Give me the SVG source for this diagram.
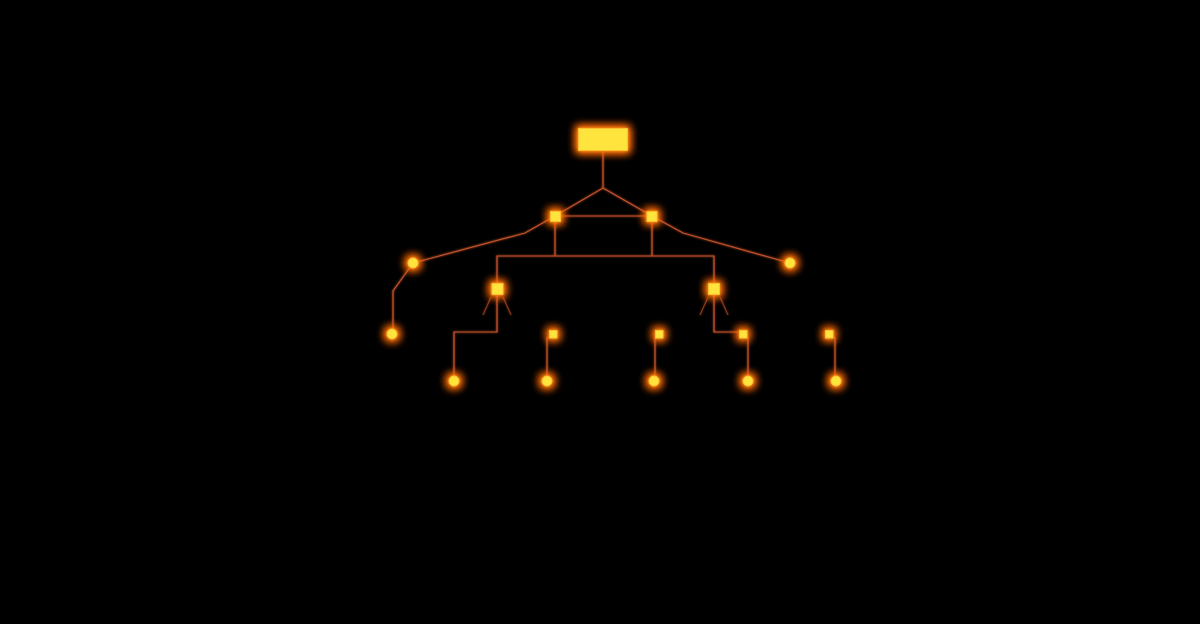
<svg xmlns="http://www.w3.org/2000/svg" width="1200" height="624" viewBox="0 0 1200 624">
<defs>
<filter id="glow" x="-200%" y="-200%" width="500%" height="500%">
<feMorphology in="SourceAlpha" operator="dilate" radius="1.5" result="d"/>
<feGaussianBlur in="d" stdDeviation="4" result="b"/>
<feFlood flood-color="#ff6a00" flood-opacity="1"/>
<feComposite in2="b" operator="in" result="g"/>
<feGaussianBlur in="SourceAlpha" stdDeviation="1.5" result="b2"/>
<feFlood flood-color="#ffa020" flood-opacity="1"/>
<feComposite in2="b2" operator="in" result="g2"/>
<feMerge><feMergeNode in="g"/><feMergeNode in="g"/><feMergeNode in="g2"/><feMergeNode in="SourceGraphic"/></feMerge>
</filter>
<filter id="lglow" x="-20%" y="-20%" width="140%" height="140%">
<feGaussianBlur stdDeviation="1" result="b"/>
<feMerge><feMergeNode in="b"/><feMergeNode in="SourceGraphic"/></feMerge>
</filter>
</defs>
<style>
.ln{fill:none;stroke:#c5522a;stroke-width:1.2;stroke-linejoin:miter}
.thin{fill:none;stroke:#9a401c;stroke-width:1}
.nd{fill:#ffe43c;stroke:#ffc030;stroke-width:0.8;filter:url(#glow)}
</style>
<rect width="1200" height="624" fill="#000"/>
<g id="connectors" filter="url(#lglow)">
<path class="ln" d="M603,151 V188 L555,216 M603,188 L652,216 M555,216 H652"/>
<path class="ln" d="M555,216 L525,233 L413,263"/>
<path class="ln" d="M652,216 L683,233 L790,263"/>
<path class="ln" d="M555,216 V256 M652,216 V256 M497,289 V256 H714 V289"/>
<path class="ln" d="M413,263 L393,291 V334"/>
<path class="ln" d="M497,289 V332 H454 V381"/>
<path class="ln" d="M714,289 V332 H743"/>
<path class="ln" d="M553,334 L547,338 V381"/>
<path class="ln" d="M659,334 L655,338 V381"/>
<path class="ln" d="M743,334 L748,338 V381"/>
<path class="ln" d="M829,334 L835,338 V381"/>
<path class="thin" d="M491,297 L483,315 M503,297 L511,315"/>
<path class="thin" d="M708,297 L700,315 M720,297 L728,315"/>
</g>
<g id="root"><rect class="nd" x="578.5" y="128.5" width="49" height="22"/></g>
<g id="n-l1"><rect class="nd" x="550.5" y="211.5" width="10" height="10"/></g>
<g id="n-r1"><rect class="nd" x="647" y="211.5" width="10" height="10"/></g>
<g id="n-l2"><circle class="nd" cx="413" cy="263" r="5"/></g>
<g id="n-r2"><circle class="nd" cx="790" cy="263" r="5"/></g>
<g id="n-lm"><rect class="nd" x="492" y="283.5" width="11" height="11"/></g>
<g id="n-rm"><rect class="nd" x="708.5" y="283.5" width="11" height="11"/></g>
<g id="n-ll"><circle class="nd" cx="392" cy="334" r="5"/></g>
<g id="n-s1"><rect class="nd" x="549.5" y="330.5" width="7.5" height="7.5"/></g>
<g id="n-s2"><rect class="nd" x="655.5" y="330.5" width="7.5" height="7.5"/></g>
<g id="n-s3"><rect class="nd" x="739.5" y="330.5" width="7.5" height="7.5"/></g>
<g id="n-s4"><rect class="nd" x="825.5" y="330.5" width="7.5" height="7.5"/></g>
<g id="n-b1"><circle class="nd" cx="454" cy="381" r="5"/></g>
<g id="n-b2"><circle class="nd" cx="547" cy="381" r="5"/></g>
<g id="n-b3"><circle class="nd" cx="654" cy="381" r="5"/></g>
<g id="n-b4"><circle class="nd" cx="748" cy="381" r="5"/></g>
<g id="n-b5"><circle class="nd" cx="836" cy="381" r="5"/></g>
</svg>
